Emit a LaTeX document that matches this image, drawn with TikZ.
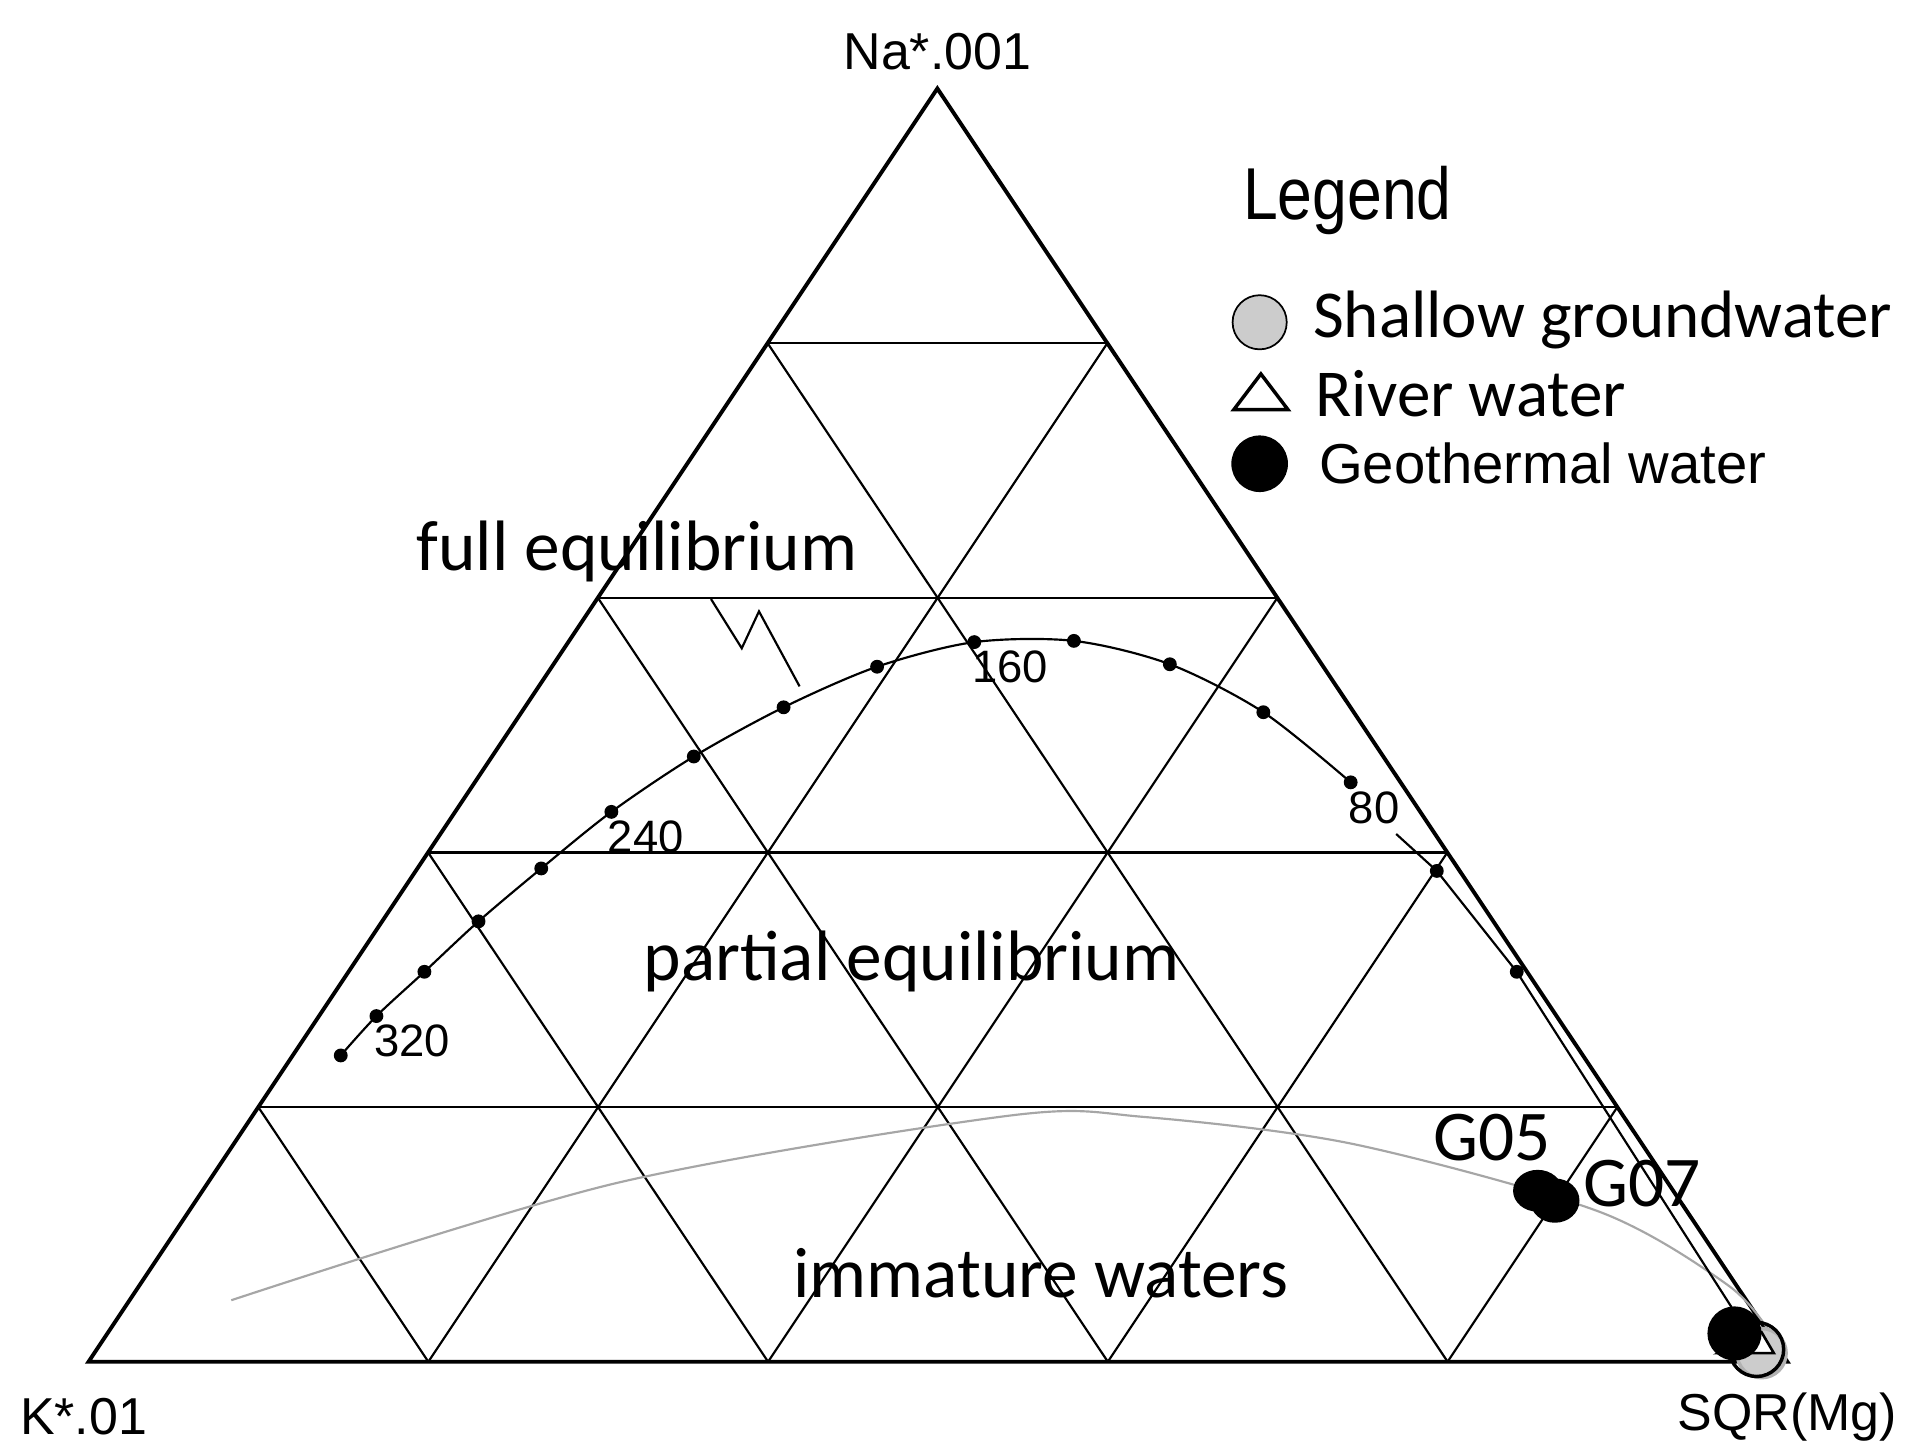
\documentclass[tikz,border=0pt]{standalone}
\usepackage{fontspec}
\usetikzlibrary{calc}
\setmainfont{Liberation Sans}
\newfontfamily\carlitofont{Carlito}
\begin{document}
\begin{tikzpicture}[x=0.01cm,y=-0.01cm,
  grid/.style={line width=0.5pt},
  edge/.style={line width=0.9pt},
  dot/.style={circle,fill,inner sep=0pt,minimum size=3.2pt},
  lab/.style={font=\fontsize{10.5}{13}\selectfont},
  big/.style={font=\carlitofont\fontsize{16.5}{20}\selectfont}]
\useasboundingbox (0,0) rectangle (1560,1183);
\coordinate (K) at (72,1107);
\coordinate (S) at (1453,1107);
\coordinate (N) at (762,72);
% grid
\foreach \i in {1,2,3,4}{
  \draw[grid] ($(K)!\i/5!(N)$) -- ($(S)!\i/5!(N)$);
  \draw[grid] ($(K)!\i/5!(S)$) -- ($(N)!\i/5!(S)$);
  \draw[grid] ($(S)!\i/5!(K)$) -- ($(N)!\i/5!(K)$);
}
\draw[edge] (K) -- (S) -- (N) -- cycle;
% immature curve
\draw[gray!70,line width=0.5pt] plot[smooth] coordinates {(188,1057) (500,962) (820,907) (930,908) (1100,930) (1300,985) (1405,1045) (1440,1085)};
% full equilibrium curve
\draw[line width=0.5pt] plot[smooth] coordinates {(277,858) (306,826) (345,790) (389,749) (440,706) (497,660) (564,615) (637,575) (713,542) (792,522) (873,521) (951,540) (1027,579) (1098,636)};
\draw[line width=0.5pt] (1135,678) -- (1168,708) -- (1233,790) -- (1420,1082);
\foreach \p [count=\k] in {(277,858),(306,826),(345,790),(389,749),(440,706),(497,660),(564,615),(637,575),(713,542),(792,522),(873,521),(951,540),(1027,579),(1098,636),(1168,708),(1233,790)}
  \node[dot] (d\k) at \p {};
\node[lab] (t320) at (335,846) {320};
\node[lab] (t240) at (525,680) {240};
\node[lab] (t160) at (821,542) {160};
\node[lab] (t80) at (1117,657) {80};
% zigzag leader
\draw[line width=0.5pt] (578,487) -- (603,527) -- (617,497) -- (650,558);
% region labels
\node[big] (fe) at (518,448) {full equilibrium};
\node[big] (pe) at (741,782) {partial equilibrium};
\node[big] (im) at (846,1035) {immature waters};
% samples
\fill (1250,968) ellipse (20 and 17);
\fill (1264,976) ellipse (20 and 18);
\node[big] (g05) at (1213,925) {G05};
\node[big] (g07) at (1335,962) {G07};
\draw[gray!60,fill=gray!40,line width=0.8pt] (1432,1100) ellipse (20 and 20);
\draw[black,line width=0.8pt] (1428,1097) ellipse (22 and 22);
\draw[fill=white,line width=0.6pt] (1397,1100) -- (1442,1100) -- (1432,1083) -- cycle;
\fill (1410,1084) circle (22);
% corner labels
\node[font=\fontsize{12}{14}\selectfont] (ln) at (762,42) {Na*.001};
\node[font=\fontsize{12}{14}\selectfont] (lk) at (68,1152) {K*.01};
\node[font=\fontsize{12}{14}\selectfont] (ls) at (1453,1152) {SQR(Mg)};
% legend
\node[font=\fontsize{17}{20}\selectfont,anchor=west,xscale=0.85] (leg) at (1000,163) {Legend};
\node[circle,draw,fill=gray!40,minimum size=0.44cm,inner sep=0pt] (c1) at (1024,262) {};
\node[anchor=west,font=\carlitofont\fontsize{15.5}{19}\selectfont] (l1) at (1055,260) {Shallow groundwater};
\draw[fill=white,line width=0.8pt] (1003,333) -- (1047,333) -- (1025,304) -- cycle;
\node[anchor=west,font=\carlitofont\fontsize{15.5}{19}\selectfont] (l2) at (1057,320) {River water};
\node[circle,fill,minimum size=0.46cm,inner sep=0pt] (c3) at (1024,377) {};
\node[anchor=west,font=\fontsize{13}{15}\selectfont] (l3) at (1060,377) {Geothermal water};
\end{tikzpicture}
\end{document}
